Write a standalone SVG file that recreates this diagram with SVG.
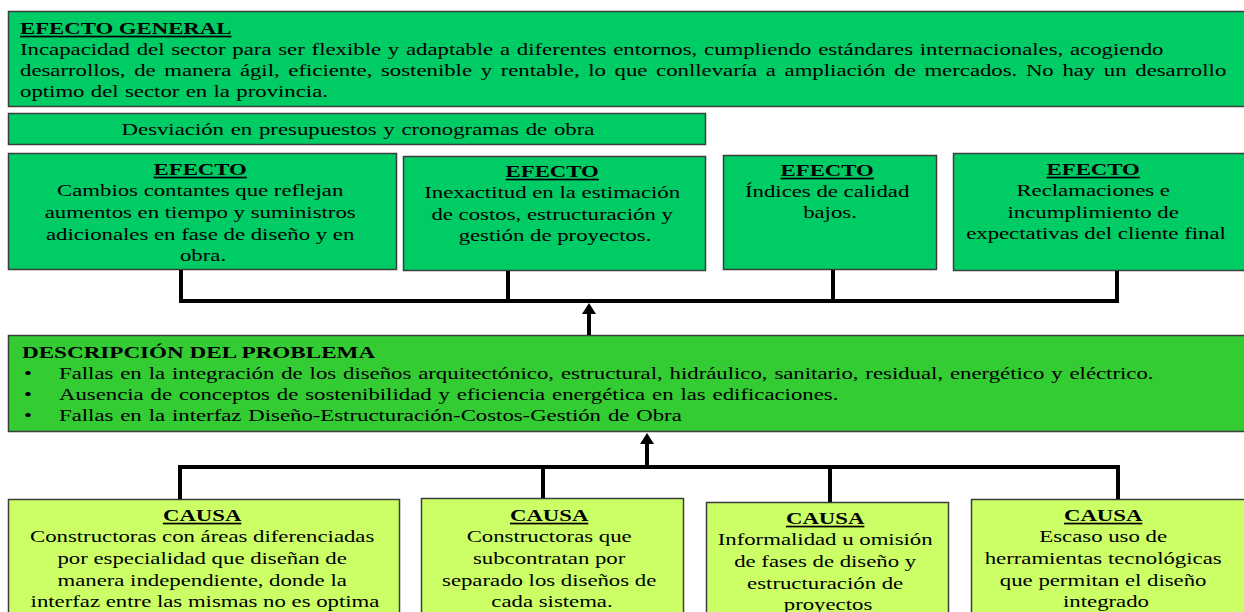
<svg xmlns="http://www.w3.org/2000/svg" width="1244" height="612" viewBox="0 0 1244 612">
  <style>
    .box { stroke: #3c3c3c; stroke-width: 1.5; }
    .eg { fill: #00cc66; }
    .pb { fill: #33cc33; }
    .ca { fill: #ccff66; }
    text { font-family: "Liberation Serif", "Times New Roman", serif; font-size: 17px; fill: #000; }
    .c { text-anchor: middle; }
    .h { font-weight: bold; text-decoration: underline; }
    .b { font-weight: bold; }
    .wire { fill: none; stroke: #000; stroke-width: 4; stroke-linejoin: miter; }
  </style>
  <defs>
    <!-- arrowhead: base sits on the path end, tip points along the path -->
    <marker id="head" markerUnits="userSpaceOnUse" markerWidth="11" markerHeight="14" refX="0" refY="7" orient="auto" viewBox="0 0 11 14">
      <path d="M0,0 L11,7 L0,14 Z" fill="#000"/>
    </marker>
  </defs>

  <rect width="1244" height="612" fill="#fff"/>

  <!-- general effect -->
  <g id="efecto-general">
    <rect class="box eg" x="8.5" y="11.5" width="1245" height="95"/>
    <g transform="translate(20 0) scale(1.34 1)">
      <text>
        <tspan x="0" y="34" class="h">EFECTO GENERAL</tspan>
        <tspan x="0" y="55" word-spacing="0.8">Incapacidad del sector para ser flexible y adaptable a diferentes entornos, cumpliendo estándares internacionales, acogiendo</tspan>
        <tspan x="0" y="76" word-spacing="2.2">desarrollos, de manera ágil, eficiente, sostenible y rentable, lo que conllevaría a ampliación de mercados. No hay un desarrollo</tspan>
        <tspan x="0" y="97" word-spacing="0.5">optimo del sector en la provincia.</tspan>
      </text>
    </g>
  </g>

  <g id="desviacion">
    <rect class="box eg" x="8.5" y="113.5" width="697" height="31"/>
    <g transform="translate(358 0) scale(1.34 1)">
      <text class="c" x="0" y="135" word-spacing="0.8">Desviación en presupuestos y cronogramas de obra</text>
    </g>
  </g>

  <!-- effects -->
  <g id="efecto-1">
    <rect class="box eg" x="8.5" y="153.5" width="388" height="116"/>
    <g transform="translate(203 0) scale(1.34 1)">
      <text class="c">
        <tspan x="0" y="175" class="h">EFECTO</tspan>
        <tspan x="0" y="196">Cambios contantes que reflejan</tspan>
        <tspan x="0" y="218">aumentos en tiempo y suministros</tspan>
        <tspan x="0" y="240">adicionales en fase de diseño y en</tspan>
        <tspan x="0" y="261">obra.</tspan>
      </text>
    </g>
  </g>

  <g id="efecto-2">
    <rect class="box eg" x="403.5" y="156.5" width="302" height="114"/>
    <g transform="translate(555 0) scale(1.34 1)">
      <text class="c">
        <tspan x="0" y="177" class="h">EFECTO</tspan>
        <tspan x="0" y="198">Inexactitud en la estimación</tspan>
        <tspan x="0" y="220">de costos, estructuración y</tspan>
        <tspan x="0" y="241">gestión de proyectos.</tspan>
      </text>
    </g>
  </g>

  <g id="efecto-3">
    <rect class="box eg" x="723.5" y="155.5" width="213" height="114"/>
    <g transform="translate(830 0) scale(1.34 1)">
      <text class="c">
        <tspan x="0" y="176" class="h">EFECTO</tspan>
        <tspan x="0" y="197">Índices de calidad</tspan>
        <tspan x="0" y="218">bajos.</tspan>
      </text>
    </g>
  </g>

  <g id="efecto-4">
    <rect class="box eg" x="953.5" y="153.5" width="300" height="117"/>
    <g transform="translate(1096 0) scale(1.34 1)">
      <text class="c">
        <tspan x="0" y="175" class="h">EFECTO</tspan>
        <tspan x="0" y="196">Reclamaciones e</tspan>
        <tspan x="0" y="218">incumplimiento de</tspan>
        <tspan x="0" y="239">expectativas del cliente final</tspan>
      </text>
    </g>
  </g>

  <!-- problem statement -->
  <g id="problema">
    <rect class="box pb" x="8.5" y="335.5" width="1245" height="96"/>
    <g transform="translate(22 0) scale(1.36 1)">
      <text class="b" x="0" y="358">DESCRIPCIÓN DEL PROBLEMA</text>
    </g>
    <g transform="translate(24 0) scale(1.34 1)">
      <text>
        <tspan x="0" y="379">•</tspan>
        <tspan x="0" y="400">•</tspan>
        <tspan x="0" y="421">•</tspan>
      </text>
    </g>
    <g transform="translate(59 0) scale(1.34 1)">
      <text word-spacing="0.9">
        <tspan x="0" y="379">Fallas en la integración de los diseños arquitectónico, estructural, hidráulico, sanitario, residual, energético y eléctrico.</tspan>
        <tspan x="0" y="400">Ausencia de conceptos de sostenibilidad y eficiencia energética en las edificaciones.</tspan>
        <tspan x="0" y="421">Fallas en la interfaz Diseño-Estructuración-Costos-Gestión de Obra</tspan>
      </text>
    </g>
  </g>

  <!-- causes -->
  <g id="causa-1">
    <rect class="box ca" x="8.5" y="499.5" width="391" height="130"/>
    <g transform="translate(205 0) scale(1.34 1)">
      <text class="c">
        <tspan x="0" y="521" class="h">CAUSA</tspan>
        <tspan x="0" y="542">Constructoras con áreas diferenciadas</tspan>
        <tspan x="0" y="564">por especialidad que diseñan de</tspan>
        <tspan x="0" y="586">manera independiente, donde la</tspan>
        <tspan x="0" y="607">interfaz entre las mismas no es optima</tspan>
      </text>
    </g>
  </g>

  <g id="causa-2">
    <rect class="box ca" x="421.5" y="498.5" width="262" height="130"/>
    <g transform="translate(552 0) scale(1.34 1)">
      <text class="c">
        <tspan x="0" y="521" class="h">CAUSA</tspan>
        <tspan x="0" y="542">Constructoras que</tspan>
        <tspan x="0" y="564">subcontratan por</tspan>
        <tspan x="0" y="586">separado los diseños de</tspan>
        <tspan x="0" y="607">cada sistema.</tspan>
      </text>
    </g>
  </g>

  <g id="causa-3">
    <rect class="box ca" x="706.5" y="502.5" width="242" height="130"/>
    <g transform="translate(828 0) scale(1.34 1)">
      <text class="c">
        <tspan x="0" y="524" class="h">CAUSA</tspan>
        <tspan x="0" y="545">Informalidad u omisión</tspan>
        <tspan x="0" y="567">de fases de diseño y</tspan>
        <tspan x="0" y="589">estructuración de</tspan>
        <tspan x="0" y="610">proyectos</tspan>
      </text>
    </g>
  </g>

  <g id="causa-4">
    <rect class="box ca" x="971.5" y="499.5" width="282" height="130"/>
    <g transform="translate(1106 0) scale(1.34 1)">
      <text class="c">
        <tspan x="0" y="521" class="h">CAUSA</tspan>
        <tspan x="0" y="542">Escaso uso de</tspan>
        <tspan x="0" y="564">herramientas tecnológicas</tspan>
        <tspan x="0" y="586">que permitan el diseño</tspan>
        <tspan x="0" y="607">integrado</tspan>
      </text>
    </g>
  </g>

  <!-- connectors -->
  <g id="connectors">
    <path class="wire" d="M181,270 V301 H1117 V271 M508,271 V301 M833,270 V301"/>
    <path class="wire" d="M589,335 V314" marker-end="url(#head)"/>
    <path class="wire" d="M180,499 V467 H1118 V499 M543,498 V467 M830,502 V467"/>
    <path class="wire" d="M647,467 V444" marker-end="url(#head)"/>
  </g>
</svg>
